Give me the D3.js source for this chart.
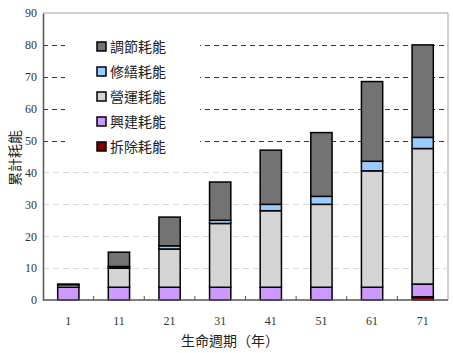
<!DOCTYPE html>
<html>
<head>
<meta charset="utf-8">
<script src="https://cdn.jsdelivr.net/npm/d3@7"></script>
<style>
  body { margin: 0; background: #fff; }
  svg text { font-family: "Liberation Serif", "DejaVu Serif", serif; }
  .cjk { font-family: "Noto Sans CJK TC", "Noto Sans CJK SC", sans-serif; }
</style>
</head>
<body>
<div id="chart-area"></div>
<script>
const width = 453;
const height = 353;
const margins = { top: 13, right: 5, bottom: 53, left: 43 };
const graphWidth = width - margins.left - margins.right;
const graphHeight = height - margins.top - margins.bottom;

// data
const years = ["1", "11", "21", "31", "41", "51", "61", "71"];
const demolition = [0, 0, 0, 0, 0, 0, 0, 1];          // 拆除
const construction = [4, 4, 4, 4, 4, 4, 4, 4];        // 興建
const operation = [0.8, 6, 12, 20, 24, 26, 36.5, 42.5]; // 營運
const repair = [0, 0.5, 1, 1, 2, 2.5, 3, 3.5];          // 修繕
const adjust = [0.2, 4.5, 9, 12, 17, 20, 25, 29];        // 調節
const yTicks = [0, 10, 20, 30, 40, 50, 60, 70, 80, 90];

const seriesKeys = ["demolition", "construction", "operation", "repair", "adjust"];
const seriesNames = {
    adjust: "調節耗能",
    repair: "修繕耗能",
    operation: "營運耗能",
    construction: "興建耗能",
    demolition: "拆除耗能"
};
const colors = {
    demolition: "#800000",
    construction: "#cc99ff",
    operation: "#d4d4d4",
    repair: "#99ccff",
    adjust: "#737373"
};

const rows = years.map((y, i) => ({
    year: y,
    demolition: demolition[i],
    construction: construction[i],
    operation: operation[i],
    repair: repair[i],
    adjust: adjust[i]
}));

const svg = d3.select("#chart-area")
    .append("svg")
        .attr("width", width)
        .attr("height", height);

const g = svg.append("g")
    .attr("transform", `translate(${margins.left}, ${margins.top})`);

const xMapping = d3.scaleBand()
    .domain(years)
    .range([0, graphWidth])
    .paddingInner(0.58)
    .paddingOuter(0.29);

const yMapping = d3.scaleLinear()
    .domain([0, 90])
    .range([graphHeight, 0]);

// frame on top and right
g.append("path")
    .attr("d", `M0,0H${graphWidth}V${graphHeight}`)
    .attr("fill", "none")
    .attr("stroke", "#a0a0a0")
    .attr("stroke-width", 1);

// gridlines
g.append("g")
    .selectAll("line")
    .data(yTicks.filter(t => t > 0 && t < 90))
    .enter()
    .append("line")
    .attr("x1", 0)
    .attr("x2", graphWidth)
    .attr("y1", d => Math.round(yMapping(d)) + 0.5)
    .attr("y2", d => Math.round(yMapping(d)) + 0.5)
    .attr("stroke", d => d >= 50 ? "#333" : "#d8d8d8")
    .attr("stroke-width", 1)
    .attr("stroke-dasharray", d => d >= 50 ? "5,4" : "6,4");

// legend box (covers gridlines)
const legend = g.append("g")
    .attr("transform", "translate(50, 23)");
legend.append("rect")
    .attr("x", -28)
    .attr("y", 0)
    .attr("width", 135)
    .attr("height", 120)
    .attr("fill", "#fff");

const legendOrder = ["adjust", "repair", "operation", "construction", "demolition"];
legendOrder.forEach((k, i) => {
    const cy = 6 + i * 25;
    legend.append("rect")
        .attr("x", 4)
        .attr("y", cy)
        .attr("width", 9)
        .attr("height", 9)
        .attr("fill", colors[k])
        .attr("stroke", "#000")
        .attr("stroke-width", 1.5);
    legend.append("text")
        .attr("class", "cjk")
        .attr("x", 17)
        .attr("y", cy + 10)
        .attr("font-size", 14)
        .attr("fill", "#222")
        .text(seriesNames[k]);
});

// stacked bars
const stacked = d3.stack().keys(seriesKeys)(rows);

g.append("g")
    .selectAll("g")
    .data(stacked)
    .enter()
    .append("g")
    .attr("fill", d => colors[d.key])
    .selectAll("rect")
    .data(d => d.filter(s => s[1] - s[0] > 0))
    .enter()
    .append("rect")
    .attr("x", d => xMapping(d.data.year))
    .attr("y", d => yMapping(d[1]))
    .attr("width", xMapping.bandwidth())
    .attr("height", d => yMapping(d[0]) - yMapping(d[1]))
    .attr("stroke", "#000")
    .attr("stroke-width", 1.5);

// y axis
const yAxis = g.append("g")
    .call(d3.axisLeft(yMapping).tickValues(yTicks).tickSize(0).tickPadding(6));
yAxis.select(".domain").attr("stroke", "#555").attr("stroke-width", 1.5);
yAxis.selectAll("text")
    .attr("font-size", 12)
    .attr("fill", "#333")
    .style("font-family", "Liberation Serif, serif");

// x axis: ticks at band boundaries, pointing up
const xAxis = g.append("g")
    .attr("transform", `translate(0, ${graphHeight})`);
xAxis.append("line")
    .attr("x1", 0)
    .attr("x2", graphWidth)
    .attr("stroke", "#555")
    .attr("stroke-width", 1.5);
const step = xMapping.step();
xAxis.selectAll(".bound")
    .data(years.slice(1))
    .enter()
    .append("line")
    .attr("class", "bound")
    .attr("x1", d => xMapping(d) - xMapping.bandwidth() * 0 - (step - xMapping.bandwidth()) / 2)
    .attr("x2", d => xMapping(d) - (step - xMapping.bandwidth()) / 2)
    .attr("y1", 0)
    .attr("y2", -4)
    .attr("stroke", "#555")
    .attr("stroke-width", 1);
xAxis.selectAll(".lbl")
    .data(years)
    .enter()
    .append("text")
    .attr("class", "lbl")
    .attr("x", d => xMapping(d) + xMapping.bandwidth() / 2)
    .attr("y", 25)
    .attr("text-anchor", "middle")
    .attr("font-size", 12)
    .attr("fill", "#333")
    .text(d => d);

// axis titles
svg.append("text")
    .attr("class", "cjk")
    .attr("x", 230)
    .attr("y", 346)
    .attr("text-anchor", "middle")
    .attr("font-size", 14)
    .attr("fill", "#222")
    .text("生命週期（年）");

svg.append("text")
    .attr("class", "cjk")
    .attr("transform", "translate(20, 158) rotate(-90)")
    .attr("text-anchor", "middle")
    .attr("font-size", 14)
    .attr("fill", "#222")
    .text("累計耗能");
</script>
</body>
</html>
